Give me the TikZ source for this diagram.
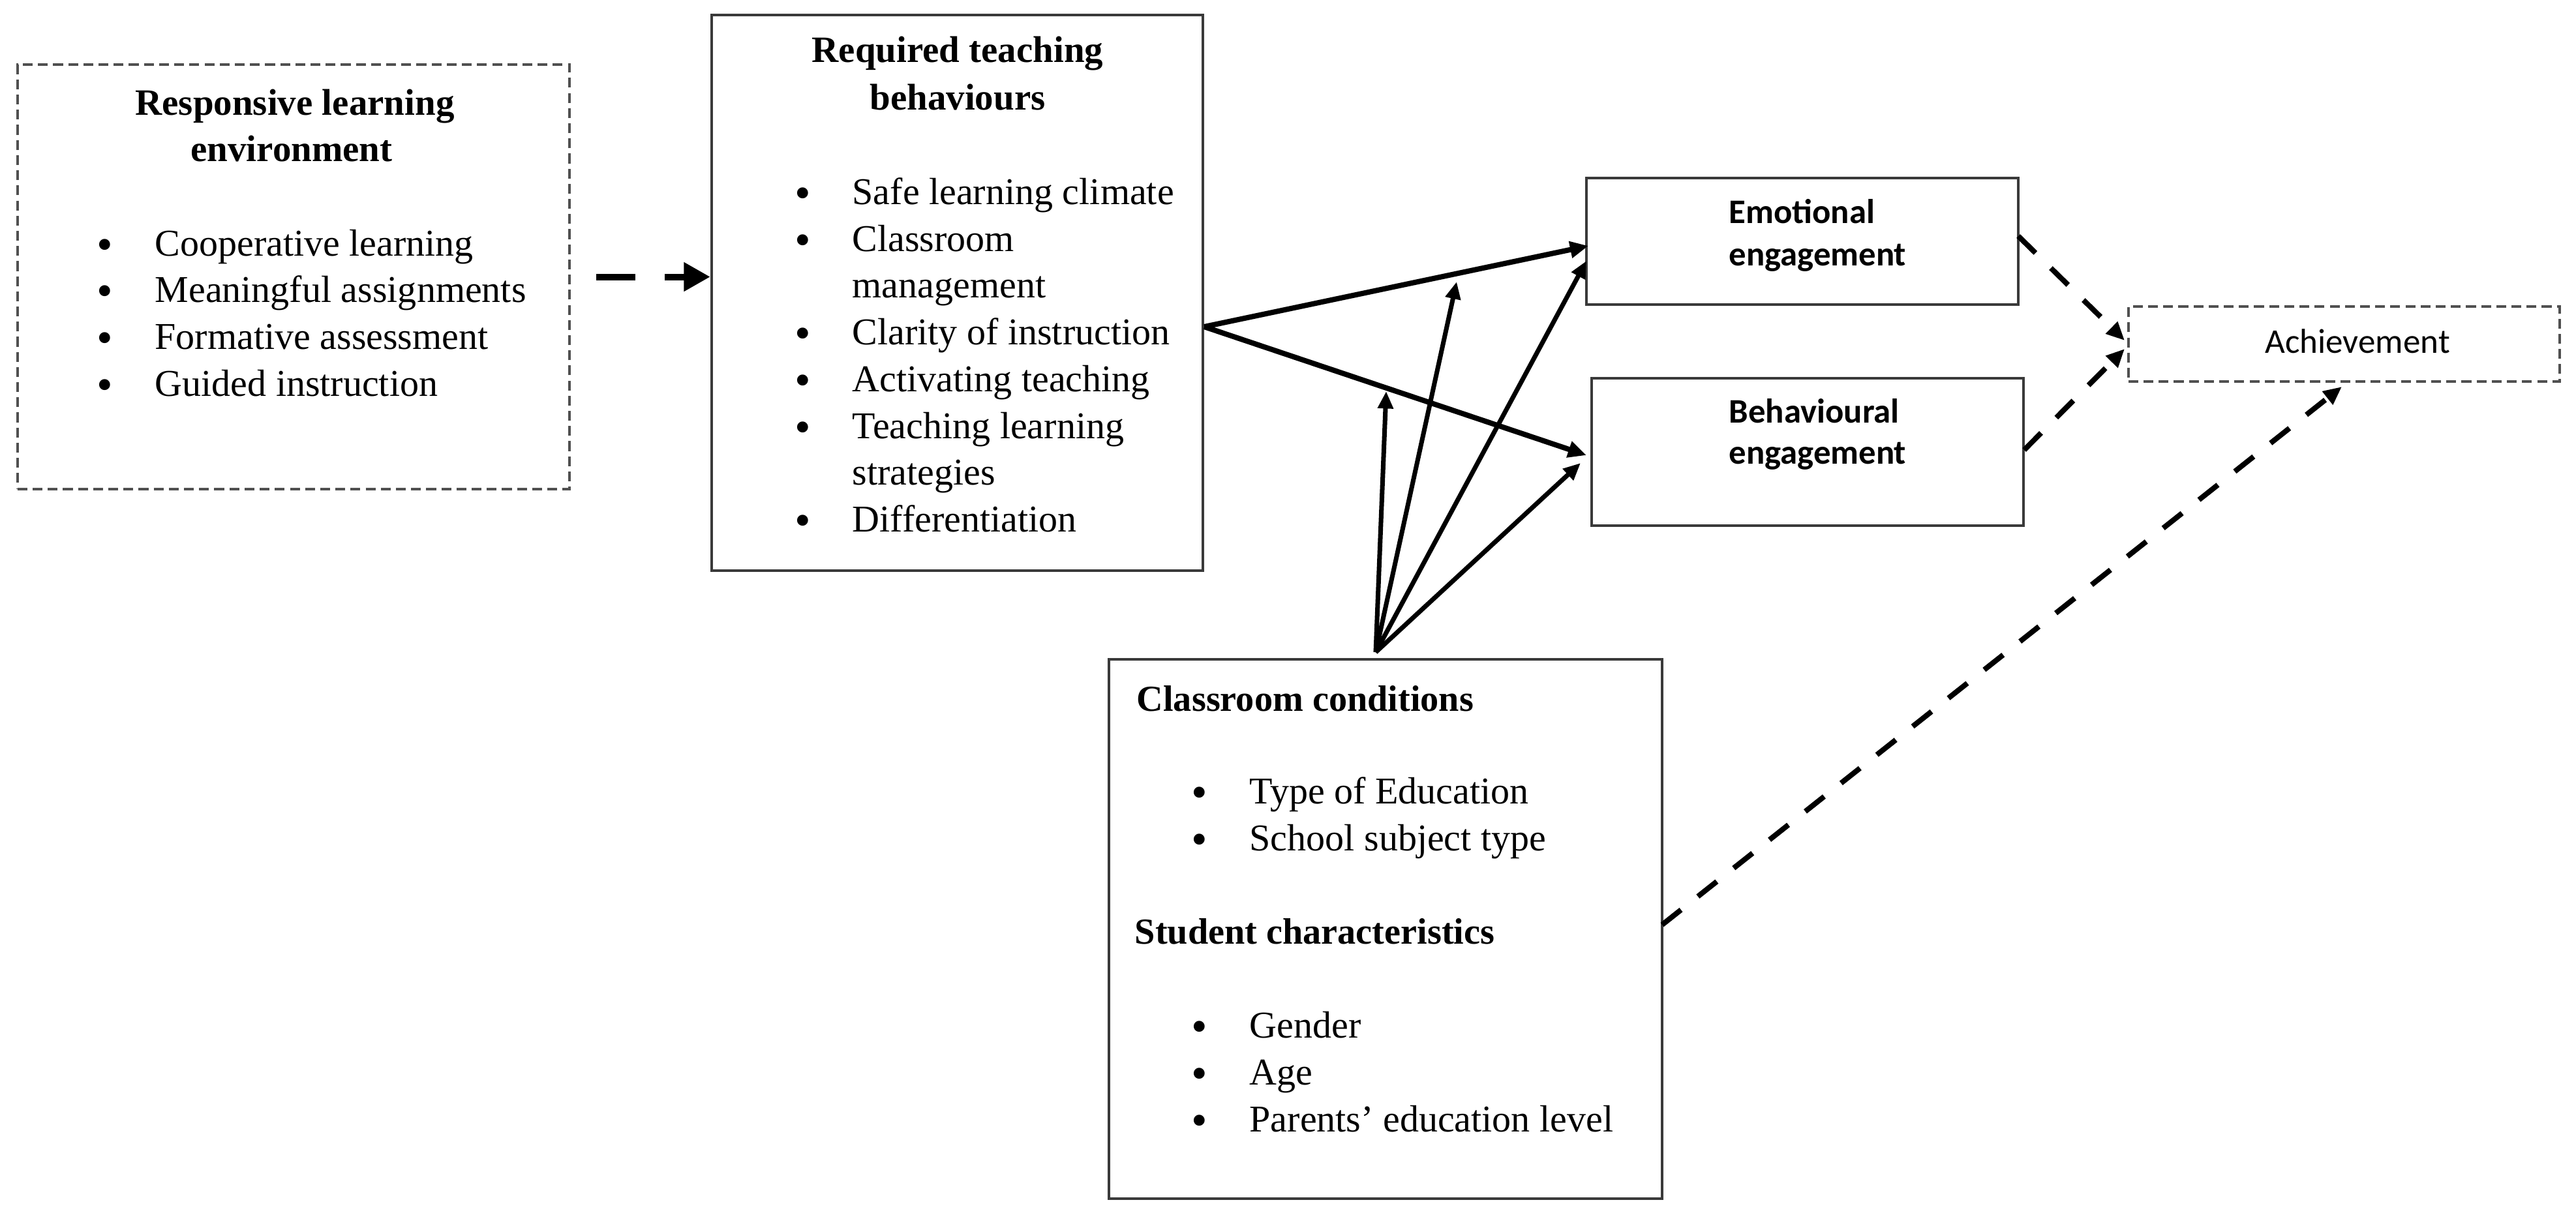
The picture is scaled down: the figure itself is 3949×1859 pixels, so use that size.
\documentclass[tikz,border=0pt]{standalone}
\usepackage{fontspec}
\setmainfont{Liberation Serif}
\newfontfamily\calibri{Carlito}
\usetikzlibrary{arrows.meta}
\definecolor{boxgray}{HTML}{3A3A3A}
\definecolor{dgray}{HTML}{505050}
\tikzset{
  boxs/.style={draw=boxgray, line width=1.1pt, inner sep=0pt, rectangle},
  dbox/.style={draw=dgray, line width=1.1pt, dash pattern=on 4.3pt off 2.3pt, inner sep=0pt, rectangle},
  txt/.style={inner sep=0pt, anchor=base west, font=\fontsize{16.5}{20}\selectfont},
  bul/.style={inner sep=0pt, anchor=base, yshift=-0.06cm, font=\fontsize{20}{20}\selectfont},
  ttl/.style={inner sep=0pt, anchor=base, font=\fontsize{16.2}{20}\selectfont\bfseries},
  ttlw/.style={inner sep=0pt, anchor=base west, font=\fontsize{16}{20}\selectfont\bfseries},
  sansb/.style={inner sep=0pt, anchor=base west, font=\fontsize{15}{18}\selectfont\calibri\bfseries},
  sansr/.style={inner sep=0pt, anchor=base, font=\fontsize{15.1}{18}\selectfont\calibri},
  bigarr/.style={line width=2.85pt, dash pattern=on 17pt off 12.8pt, -{Triangle[length=11.5pt,width=12pt]}},
  sarr/.style={line width=2.3pt, -{Triangle[length=8pt,width=7pt]}},
  carr/.style={line width=2pt, -{Triangle[length=7.5pt,width=6.5pt]}},
  darr/.style={line width=2.3pt, dash pattern=on 10.5pt off 9.4pt, -{Triangle[length=8pt,width=7pt]}}
}
\begin{document}
\begin{tikzpicture}[x=0.01cm,y=-0.01cm]
\useasboundingbox (0,0) rectangle (3949,1859);
% boxes
\node[dbox, minimum width=8.46cm, minimum height=6.51cm] (b1) at (450,424.5) {};
\node[boxs, minimum width=7.53cm, minimum height=8.52cm] (b2) at (1467.5,449) {};
\node[boxs, minimum width=6.62cm, minimum height=1.94cm] (emo) at (2763,370) {};
\node[boxs, minimum width=6.62cm, minimum height=2.26cm] (beh) at (2771,693) {};
\node[dbox, minimum width=6.61cm, minimum height=1.15cm] (ach) at (3593.5,527.5) {};
\node[boxs, minimum width=8.48cm, minimum height=8.27cm] (cc) at (2124,1424.5) {};
% box 1 text
\node[ttl] (t1a) at (452,176) {Responsive learning};
\node[ttl] (t1b) at (447,247) {environment};
\node[bul] (u11) at (161,392) {\textbullet};
\node[txt] (i11) at (237,392) {Cooperative learning};
\node[bul] (u12) at (161,463) {\textbullet};
\node[txt] (i12) at (237,463) {Meaningful assignments};
\node[bul] (u13) at (161,535) {\textbullet};
\node[txt] (i13) at (237,535) {Formative assessment};
\node[bul] (u14) at (161,607) {\textbullet};
\node[txt] (i14) at (237,607) {Guided instruction};
% box 2 text
\node[ttl] (t2a) at (1468,95) {Required teaching};
\node[ttl] (t2b) at (1468,168) {behaviours};
\node[bul] (u21) at (1231,313) {\textbullet};
\node[txt] (i21) at (1306,313) {Safe learning climate};
\node[bul] (u22) at (1231,385) {\textbullet};
\node[txt] (i22) at (1306,385) {Classroom};
\node[txt] (i22b) at (1306,456) {management};
\node[bul] (u23) at (1231,528) {\textbullet};
\node[txt] (i23) at (1306,528) {Clarity of instruction};
\node[bul] (u24) at (1231,600) {\textbullet};
\node[txt] (i24) at (1306,600) {Activating teaching};
\node[bul] (u25) at (1231,672) {\textbullet};
\node[txt] (i25) at (1306,672) {Teaching learning};
\node[txt] (i25b) at (1306,743) {strategies};
\node[bul] (u26) at (1231,815) {\textbullet};
\node[txt] (i26) at (1306,815) {Differentiation};
% engagement boxes
\node[sansb] (te1) at (2650,342) {Emotional};
\node[sansb] (te2) at (2650,407) {engagement};
\node[sansb] (tb1) at (2650,648) {Behavioural};
\node[sansb] (tb2) at (2650,711) {engagement};
\node[sansr] (ta) at (3614,541) {Achievement};
% classroom conditions
\node[ttlw] (tc1) at (1742,1090) {Classroom conditions};
\node[bul] (u31) at (1839,1232) {\textbullet};
\node[txt] (i31) at (1915,1232) {Type of Education};
\node[bul] (u32) at (1839,1304) {\textbullet};
\node[txt] (i32) at (1915,1304) {School subject type};
\node[ttlw] (tc2) at (1739,1447) {Student characteristics};
\node[bul] (u33) at (1839,1591) {\textbullet};
\node[txt] (i33) at (1915,1591) {Gender};
\node[bul] (u34) at (1839,1663) {\textbullet};
\node[txt] (i34) at (1915,1663) {Age};
\node[bul] (u35) at (1839,1735) {\textbullet};
\node[txt] (i35) at (1915,1735) {Parents’ education level};
% connector coordinates
\coordinate (s2) at (1846,501);
\coordinate (emoin) at (2435,377);
\coordinate (behin) at (2432,698);
\coordinate (o) at (2109,1000);
\coordinate (onbeh) at (2125,600);
\coordinate (onemo) at (2233,432);
\coordinate (emoin2) at (2432,400);
\coordinate (behin2) at (2423,710);
\coordinate (emoout) at (3094,362);
\coordinate (behout) at (3103,690);
\coordinate (achin1) at (3257,522);
\coordinate (achin2) at (3257,535);
\coordinate (ccout) at (2548,1418);
\coordinate (achin3) at (3590,593);
% connectors
\draw[bigarr] ([xshift=0.39cm]b1.east) -- (b1.east -| b2.west);
\draw[sarr] (s2) -- (emoin);
\draw[sarr] (s2) -- (behin);
\draw[carr] (o) -- (onbeh);
\draw[carr] (o) -- (onemo);
\draw[carr] (o) -- (emoin2);
\draw[carr] (o) -- (behin2);
\draw[darr] (emoout) -- (achin1);
\draw[darr] (behout) -- (achin2);
\draw[darr] (ccout) -- (achin3);
\end{tikzpicture}
\end{document}
